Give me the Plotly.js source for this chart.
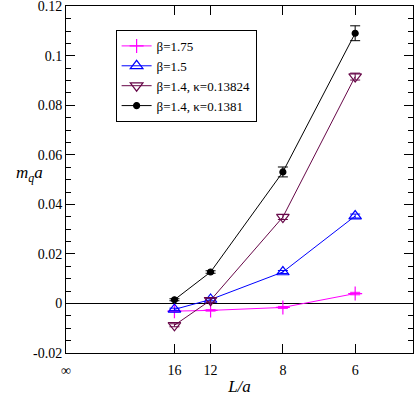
<!DOCTYPE html>
<html>
<head>
<meta charset="utf-8">
<script src="https://cdn.plot.ly/plotly-3.0.1.min.js"></script>
<style>
  body { margin: 0; background: #fff; }
  #plot { width: 415px; height: 396px; }
</style>
</head>
<body>
<div id="plot"></div>
<script>
// box sizes L/a, plotted at 1/L so that L = infinity sits at the left edge
var sizes = [16, 12, 8, 6];
var xTickVals = [0, 1/16, 1/12, 1/8, 1/6];
var xTickText = ['\u221e', '16', '12', '8', '6'];

var yTickVals = [-0.02, 0, 0.02, 0.04, 0.06, 0.08, 0.1, 0.12];
var yTickText = ['-0.02', '0', '0.02', '0.04', '0.06', '0.08', '0.1', '0.12'];

var names = ['\u03b2=1.75', '\u03b2=1.5', '\u03b2=1.4, \u03ba=0.13824', '\u03b2=1.4, \u03ba=0.1381'];

var mq175 = [-0.0031, -0.0028, -0.0016, 0.0040];
var err175 = [0.0003, 0.0003, 0.0004, 0.0005];

var mq15 = [-0.0024, 0.0016, 0.0127, 0.0353];
var err15 = [0.0005, 0.0005, 0.0006, 0.0008];

var mq14a = [-0.0088, 0.0013, 0.0349, 0.0916];
var err14a = [0.0006, 0.0008, 0.0010, 0.0014];

var mq14b = [0.0015, 0.0127, 0.0531, 0.1091];
var err14b = [0.0004, 0.0005, 0.0020, 0.0030];

var xs = sizes.map(function (L) { return 1 / L; });

var serif = '"Liberation Serif", "Times New Roman", Times, serif';

function series(name, y, err, color, symbol, size) {
  return {
    x: xs,
    y: y,
    name: name,
    type: 'scatter',
    mode: 'lines+markers',
    line: {color: color, width: 1},
    marker: {symbol: symbol, size: size, color: color, line: {color: color, width: 1.2}},
    error_y: {type: 'data', array: err, visible: true, color: color, thickness: 1, width: 5}
  };
}

var data = [
  series(names[0], mq175, err175, '#ff00ff', 'cross-thin-open', 10),
  series(names[1], mq15, err15, '#0000ff', 'triangle-up-open', 11),
  series(names[2], mq14a, err14a, '#670748', 'triangle-down-open', 11),
  series(names[3], mq14b, err14b, '#000000', 'circle', 6)
];

var layout = {
  width: 415,
  height: 396,
  margin: {l: 66, r: 2, t: 6, b: 43},
  paper_bgcolor: '#fff',
  plot_bgcolor: '#fff',
  font: {family: serif, size: 14, color: '#000'},
  showlegend: true,
  legend: {
    x: 0.143, y: 0.931, xanchor: 'left', yanchor: 'top',
    bordercolor: '#000', borderwidth: 1, bgcolor: '#fff',
    font: {family: serif, size: 13}
  },
  xaxis: {
    range: [0, 0.2],
    tickmode: 'array',
    tickvals: xTickVals,
    ticktext: xTickText,
    ticks: 'inside',
    ticklen: 9,
    tickcolor: '#000',
    showline: true,
    linecolor: '#000',
    linewidth: 1,
    mirror: 'ticks',
    showgrid: false,
    zeroline: false,
    ticklabelstandoff: 4,
    title: {text: '<i>L/a</i>', font: {family: serif, size: 17}, standoff: 10}
  },
  yaxis: {
    range: [-0.02, 0.1201],
    tickmode: 'array',
    tickvals: yTickVals,
    ticktext: yTickText,
    ticklabeloverflow: 'allow',
    ticks: 'inside',
    ticklen: 9,
    tickcolor: '#000',
    showline: true,
    linecolor: '#000',
    linewidth: 1,
    mirror: 'ticks',
    showgrid: false,
    zeroline: true,
    zerolinecolor: '#000',
    zerolinewidth: 1,
    minor: {tickmode: 'linear', tick0: 0, dtick: 0.005, ticks: 'inside', ticklen: 5, tickcolor: '#000', showgrid: false}
  },
  annotations: [{
    text: '<i>m<sub>q</sub>a</i>',
    xref: 'paper', yref: 'paper',
    x: -0.15, y: 0.515,
    showarrow: false,
    font: {family: serif, size: 17}
  }]
};

Plotly.newPlot('plot', data, layout, {displayModeBar: false});
</script>
</body>
</html>
